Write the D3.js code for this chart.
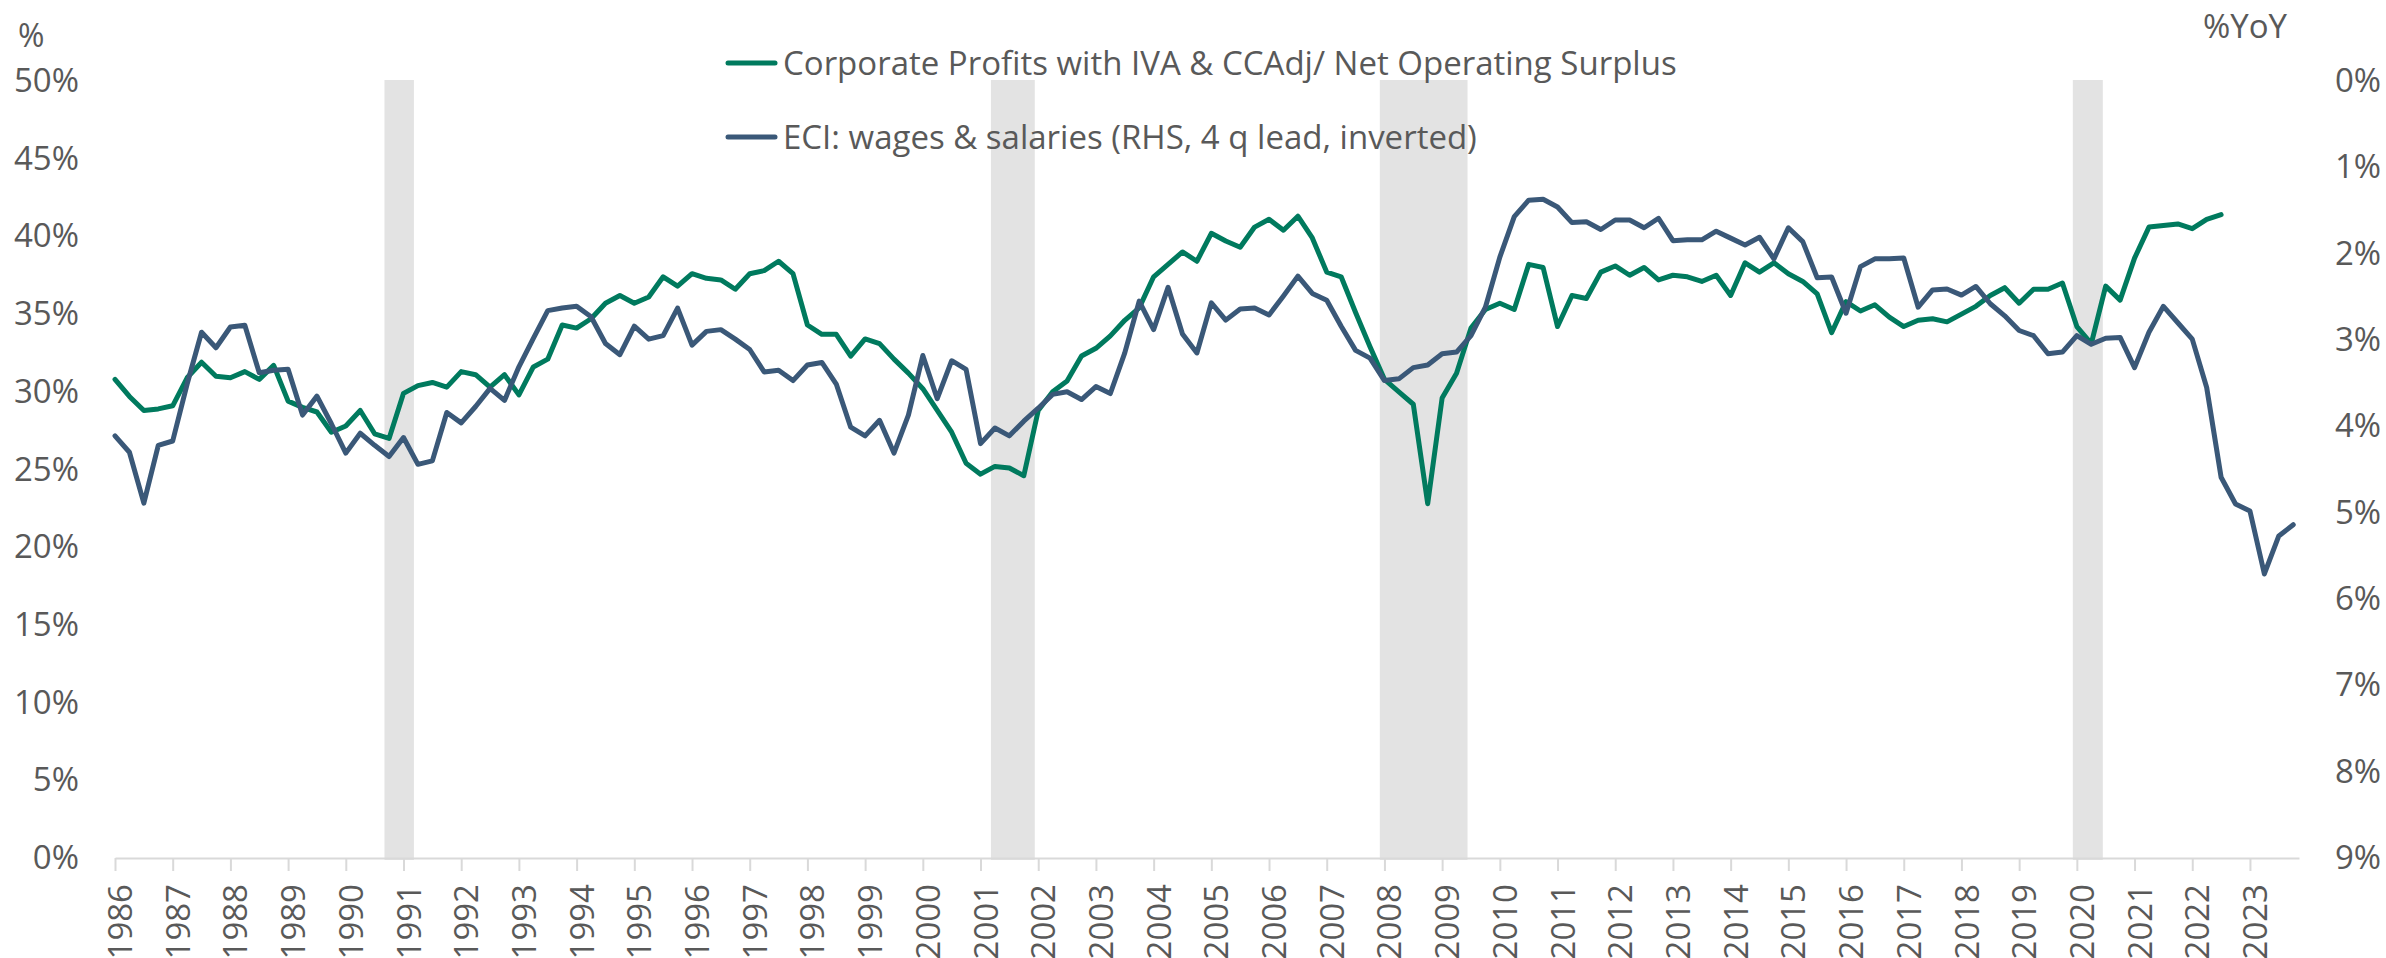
<!DOCTYPE html>
<html>
<head>
<meta charset="utf-8">
<script src="https://cdn.jsdelivr.net/npm/d3@7"></script>
<style>
    body { margin: 0; background: #ffffff; }
    text { font-family: 'Open Sans', 'Noto Sans', sans-serif; fill: #595959; }
    .tick line { stroke: #d9d9d9; stroke-width: 2; }
    #xAxis .domain { stroke: #d9d9d9; stroke-width: 2; }
</style>
</head>
<body>
<svg id="mainFrame"></svg>
<script>
// quarterly data, first point = 1986 Q1
const startYear = 1986
const endYear = 2023.85

// Corporate Profits with IVA & CCAdj / Net Operating Surplus, % (1986Q1 - 2022Q3)
const profitShare = [
    30.8, 29.7, 28.8, 28.9, 29.1, 30.9, 31.9, 31.0, 30.9, 31.3, 30.8, 31.7, 29.4, 29.0, 28.7, 27.4,
    27.8, 28.8, 27.3, 27.0, 29.9, 30.4, 30.6, 30.3, 31.3, 31.1, 30.3, 31.1, 29.8, 31.6, 32.1, 34.3,
    34.1, 34.7, 35.7, 36.2, 35.7, 36.1, 37.4, 36.8, 37.6, 37.3, 37.2, 36.6, 37.6, 37.8, 38.4, 37.6,
    34.3, 33.7, 33.7, 32.3, 33.4, 33.1, 32.1, 31.2, 30.2, 28.8, 27.4, 25.4, 24.7, 25.2, 25.1, 24.6,
    28.8, 30.0, 30.7, 32.3, 32.8, 33.6, 34.6, 35.4, 37.4, 38.2, 39.0, 38.4, 40.2, 39.7, 39.3, 40.6,
    41.1, 40.4, 41.3, 39.9, 37.7, 37.4, 35.1, 32.9, 30.8, 30.0, 29.2, 22.8, 29.6, 31.2, 34.1, 35.3,
    35.7, 35.3, 38.2, 38.0, 34.2, 36.2, 36.0, 37.7, 38.1, 37.5, 38.0, 37.2, 37.5, 37.4, 37.1, 37.5,
    36.2, 38.3, 37.7, 38.3, 37.6, 37.1, 36.3, 33.8, 35.8, 35.2, 35.6, 34.8, 34.2, 34.6, 34.7, 34.5,
    35.0, 35.5, 36.2, 36.7, 35.7, 36.6, 36.6, 37.0, 34.2, 33.1, 36.8, 35.9, 38.6, 40.6, 40.7, 40.8,
    40.5, 41.1, 41.4
]

// ECI wages & salaries %YoY, 4 q lead (1986Q1 - 2023Q4), plotted on inverted RHS
const eciWages = [
    4.11, 4.30, 4.89, 4.22, 4.17, 3.51, 2.91, 3.09, 2.85, 2.83, 3.38, 3.35, 3.34, 3.87, 3.65, 3.97,
    4.31, 4.08, 4.22, 4.35, 4.13, 4.44, 4.40, 3.84, 3.96, 3.77, 3.56, 3.70, 3.31, 2.98, 2.66, 2.63,
    2.61, 2.73, 3.04, 3.17, 2.84, 2.99, 2.95, 2.63, 3.06, 2.90, 2.88, 2.99, 3.11, 3.37, 3.35, 3.47,
    3.29, 3.26, 3.51, 4.01, 4.11, 3.93, 4.31, 3.87, 3.18, 3.68, 3.24, 3.34, 4.20, 4.02, 4.11, 3.94,
    3.79, 3.63, 3.60, 3.69, 3.54, 3.62, 3.15, 2.55, 2.88, 2.39, 2.93, 3.15, 2.57, 2.77, 2.64, 2.63,
    2.71, 2.49, 2.26, 2.46, 2.54, 2.84, 3.12, 3.21, 3.47, 3.45, 3.32, 3.29, 3.16, 3.14, 2.95, 2.62,
    2.04, 1.57, 1.38, 1.37, 1.46, 1.64, 1.63, 1.72, 1.61, 1.61, 1.70, 1.59, 1.85, 1.84, 1.84, 1.74,
    1.82, 1.90, 1.81, 2.06, 1.70, 1.86, 2.28, 2.27, 2.69, 2.15, 2.06, 2.06, 2.05, 2.62, 2.42, 2.41,
    2.48, 2.38, 2.58, 2.72, 2.89, 2.95, 3.16, 3.14, 2.95, 3.05, 2.98, 2.97, 3.32, 2.91, 2.61, 2.80,
    2.99, 3.55, 4.59, 4.90, 4.98, 5.71, 5.27, 5.14
]

// US recessions (decimal years)
const recessionStarts = [1990.67, 2001.18, 2007.92, 2019.93]
const recessionEnds = [1991.18, 2001.94, 2009.44, 2020.45]

const yearTicks = d3.range(1986, 2024)
const leftTicks = [0, 5, 10, 15, 20, 25, 30, 35, 40, 45, 50]
const rightTicks = [0, 1, 2, 3, 4, 5, 6, 7, 8, 9]

const seriesNames = [
    'Corporate Profits with IVA & CCAdj/ Net Operating Surplus',
    'ECI: wages & salaries (RHS, 4 q lead, inverted)'
]
const seriesColors = ['#007a5e', '#3a5878']

const width = 2386
const height = 958

const svg = d3.select('#mainFrame')
    .attr('width', width)
    .attr('height', height)

const margin = {
    top: 81,
    right: 87,
    bottom: 100,
    left: 115
}
const ourWidth = width - margin.left - margin.right
const ourHeight = height - margin.top - margin.bottom

const diagramGroup = svg.append('g')
    .attr('transform', `translate(${margin.left},${margin.top})`)

const recessionGroup = diagramGroup.append('g').attr('id', 'recessions')
const xAxisParentGroup = diagramGroup.append('g').attr('id', 'xAxis')
const yAxisParentGroup = diagramGroup.append('g').attr('id', 'yAxis')
const y2AxisParentGroup = diagramGroup.append('g').attr('id', 'y2Axis')
const contentParentGroup = diagramGroup.append('g').attr('id', 'content')
const legendGroup = svg.append('g').attr('id', 'legend')

/**
 * scales
 */
const xScale = d3.scaleLinear()
    .domain([startYear, endYear])
    .range([0, ourWidth])

const yScale = d3.scaleLinear()
    .domain([0, 50])
    .range([ourHeight, 0])

// RHS is inverted: 0% at top
const y2Scale = d3.scaleLinear()
    .domain([0, 9])
    .range([0, ourHeight])

const quarterToYear = i => startYear + i / 4

/**
 * recession shading
 */
recessionGroup.selectAll('rect')
    .data(recessionStarts.map((s, i) => ({ start: s, end: recessionEnds[i] })))
    .join('rect')
    .attr('x', d => xScale(d.start))
    .attr('width', d => xScale(d.end) - xScale(d.start))
    .attr('y', -1)
    .attr('height', ourHeight + 3)
    .attr('fill', '#e3e3e3')

/**
 * axes
 */
const xAxis = d3.axisBottom(xScale)
    .tickValues(yearTicks)
    .tickFormat(d3.format('d'))
    .tickSize(13)
    .tickSizeOuter(0)

xAxisParentGroup.call(xAxis)
    .attr('transform', `translate(0,${ourHeight})`)

xAxisParentGroup.selectAll('text')
    .attr('transform', 'rotate(-90)')
    .attr('text-anchor', 'end')
    .attr('x', -26)
    .attr('y', 5)
    .attr('dy', '0.35em')
    .style('font-size', '33px')

const yAxis = d3.axisLeft(yScale)
    .tickValues(leftTicks)
    .tickFormat(d => d + '%')
    .tickSize(0)
    .tickPadding(36)

yAxisParentGroup.call(yAxis)
    .select('.domain')
    .remove()

const y2Axis = d3.axisRight(y2Scale)
    .tickValues(rightTicks)
    .tickFormat(d => d + '%')
    .tickSize(0)
    .tickPadding(36)

y2AxisParentGroup.call(y2Axis)
    .attr('transform', `translate(${ourWidth},0)`)
    .select('.domain')
    .remove()

diagramGroup.selectAll('#yAxis text, #y2Axis text')
    .style('font-size', '33px')

// axis unit labels
svg.append('text')
    .attr('x', 18)
    .attr('y', 47)
    .style('font-size', '32px')
    .text('%')

svg.append('text')
    .attr('x', 2203)
    .attr('y', 38)
    .style('font-size', '33px')
    .text('%YoY')

/**
 * lines
 */
const profitLine = d3.line()
    .x((d, i) => xScale(quarterToYear(i)))
    .y(d => yScale(d))

const eciLine = d3.line()
    .x((d, i) => xScale(quarterToYear(i)))
    .y(d => y2Scale(d))

contentParentGroup.append('path')
    .attr('d', profitLine(profitShare))
    .attr('fill', 'none')
    .attr('stroke', seriesColors[0])
    .attr('stroke-width', 5)
    .attr('stroke-linejoin', 'round')
    .attr('stroke-linecap', 'round')

contentParentGroup.append('path')
    .attr('d', eciLine(eciWages))
    .attr('fill', 'none')
    .attr('stroke', seriesColors[1])
    .attr('stroke-width', 5)
    .attr('stroke-linejoin', 'round')
    .attr('stroke-linecap', 'round')

/**
 * legend
 */
const legendItems = legendGroup.selectAll('g')
    .data(seriesNames)
    .join('g')
    .attr('transform', (d, i) => `translate(726,${63 + i * 74})`)

legendItems.append('line')
    .attr('x1', 2)
    .attr('x2', 49)
    .attr('stroke', (d, i) => seriesColors[i])
    .attr('stroke-width', 5)
    .attr('stroke-linecap', 'round')

legendItems.append('text')
    .attr('x', 57)
    .attr('dy', '0.35em')
    .style('font-size', '33px')
    .text(d => d)
</script>
</body>
</html>
